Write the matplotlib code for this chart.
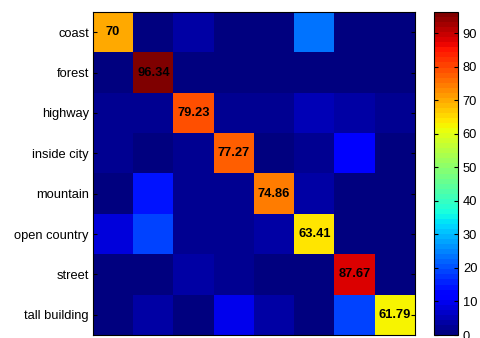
import numpy as np
import matplotlib
matplotlib.use("Agg")
import matplotlib.pyplot as plt

plt.rcParams['font.family'] = ['Liberation Sans', 'DejaVu Sans']

classes = ['coast', 'forest', 'highway', 'inside city', 'mountain',
           'open country', 'street', 'tall building']

# confusion matrix rows (true class) in percent
row_coast = [70, 0.5, 4, 0.5, 0.5, 23.5, 0.5, 0.5]
row_forest = [0.5, 96.34, 0.5, 0.5, 1.5, 0.5, 0.08, 0.08]
row_highway = [3, 2, 79.23, 2, 2, 6, 4, 1.77]
row_inside_city = [2, 1.5, 3, 77.27, 1, 2.5, 12, 0.73]
row_mountain = [1.5, 14.5, 3, 2, 74.86, 3.5, 0.32, 0.32]
row_open_country = [8, 19, 2.5, 2, 4.5, 63.41, 0.3, 0.29]
row_street = [1, 1, 4, 3, 1.5, 1, 87.67, 0.83]
row_tall_building = [1, 4, 0.5, 10, 4, 0.5, 18.21, 61.79]

conf = np.array([row_coast, row_forest, row_highway, row_inside_city,
                 row_mountain, row_open_country, row_street, row_tall_building])

fig = plt.figure(figsize=(4.8, 3.38), dpi=100)
ax = fig.add_axes([93 / 480, 3 / 338, 322 / 480, 323 / 338])
cax = fig.add_axes([434 / 480, 3 / 338, 24 / 480, 323 / 338])

cmap = plt.get_cmap('jet', 64)
im = ax.imshow(conf, cmap=cmap, vmin=0, vmax=conf.max(), aspect='auto',
               interpolation='nearest')

for i in range(len(classes)):
    ax.text(i, i, f"{conf[i, i]:g}", ha='center', va='center',
            fontsize=9.3, fontweight='bold', color='black')

ax.set_yticks(range(len(classes)))
ax.set_yticklabels(classes, fontsize=9.3)
ax.set_xticks([])
ax.tick_params(axis='y', direction='in', length=3, right=True, pad=3)
for s in ax.spines.values():
    s.set_linewidth(0.8)

cb = fig.colorbar(im, cax=cax, ticks=range(0, 100, 10))
cb.ax.tick_params(direction='in', length=3, labelsize=9.3, left=True)
cb.outline.set_linewidth(0.8)

fig.savefig('out.png', dpi=100)
